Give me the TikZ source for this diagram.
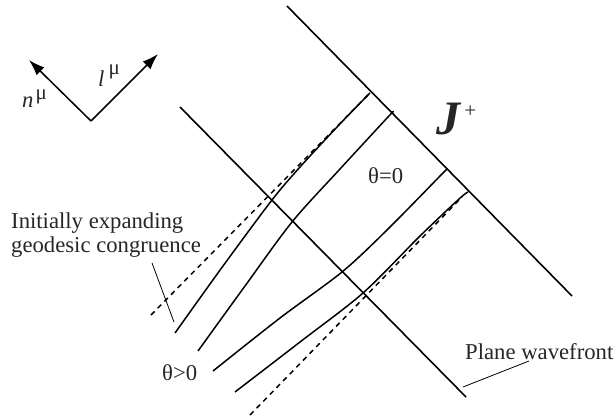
\documentclass[tikz,border=0pt]{standalone}
\usepackage{fontspec}
\setmainfont{Liberation Serif}
\usetikzlibrary{arrows.meta}
\begin{document}
\begin{tikzpicture}[x=1pt,y=-1pt,
  wall/.style={line width=1.6pt},
  ray/.style={line width=1.5pt, line join=round},
  guide/.style={line width=1.5pt, dash pattern=on 5pt off 4.5pt},
  leader/.style={line width=0.8pt},
  lbl/.style={inner sep=0pt, font=\fontsize{22.7}{24}\selectfont, text=black!85},
  vec/.style={line width=1.5pt, -{Latex[length=16pt,width=11pt]}}]
\useasboundingbox (0,0) rectangle (616,417);

% null vectors
\coordinate (o) at (91,121);
\coordinate (ntip) at (29,60);
\coordinate (ltip) at (158,54);
\draw[vec] (o) -- (ntip);
\draw[vec] (o) -- (ltip);
\node[lbl, anchor=base west] (nlab) at (22,108) {\textit{n}\hspace{2pt}\raisebox{8pt}{\fontsize{21}{21}\selectfont μ}};
\node[lbl, anchor=base west] (llab) at (98,87) {\textit{l}\hspace{4pt}\raisebox{12pt}{\fontsize{21}{21}\selectfont μ}};

% future null infinity and plane wavefront
\coordinate (j1) at (287,6);
\coordinate (j2) at (572,296);
\coordinate (w1) at (180,107);
\coordinate (w2) at (466,397);
\draw[wall] (j1) -- (j2);
\draw[wall] (w1) -- (w2);
\node[inner sep=0pt, anchor=base west, font=\fontsize{48}{48}\selectfont, text=black!85] (J) at (436,135) {\textit{\textbf{J}}\hspace{3pt}\raisebox{17pt}{\fontsize{21}{21}\selectfont +}};

% dashed guides
\coordinate (d1a) at (151,315);
\coordinate (d1b) at (368,95);
\coordinate (d2a) at (250,415);
\coordinate (d2b) at (462,197);
\draw[guide] (d1a) -- (d1b);
\draw[guide] (d2a) -- (d2b);

% geodesics
\draw[ray] plot[smooth, tension=0.5] coordinates {(175,333) (223,266) (272,200) (300,167) (338,126) (366,97) (370,93)};
\draw[ray] plot[smooth, tension=0.5] coordinates {(198,351) (245,286) (292,222) (340,169) (388,117) (393,112)};
\draw[ray] plot[smooth, tension=0.5] coordinates {(213,371) (280,318) (342,272) (387,230) (442,174) (446,170)};
\draw[ray] plot[smooth, tension=0.5] coordinates {(235,392) (300,342) (363,293) (420,236) (459,199) (468,192)};

% labels
\node[lbl, anchor=base west] (cong1) at (11,228) {Initially expanding};
\node[lbl, anchor=base west] (cong2) at (11,252) {geodesic congruence};
\coordinate (c1) at (152,263);
\coordinate (c2) at (174,322);
\draw[leader] (c1) -- (c2);

\node[lbl, anchor=base west] (pw) at (465,359) {Plane wavefront};
\coordinate (p1) at (463,387);
\coordinate (p2) at (529,361);
\draw[leader] (p1) -- (p2);

\node[lbl, anchor=base west] (t0) at (368,183) {θ=0};
\node[lbl, anchor=base west] (tp) at (162,380) {θ>0};
\end{tikzpicture}
\end{document}
